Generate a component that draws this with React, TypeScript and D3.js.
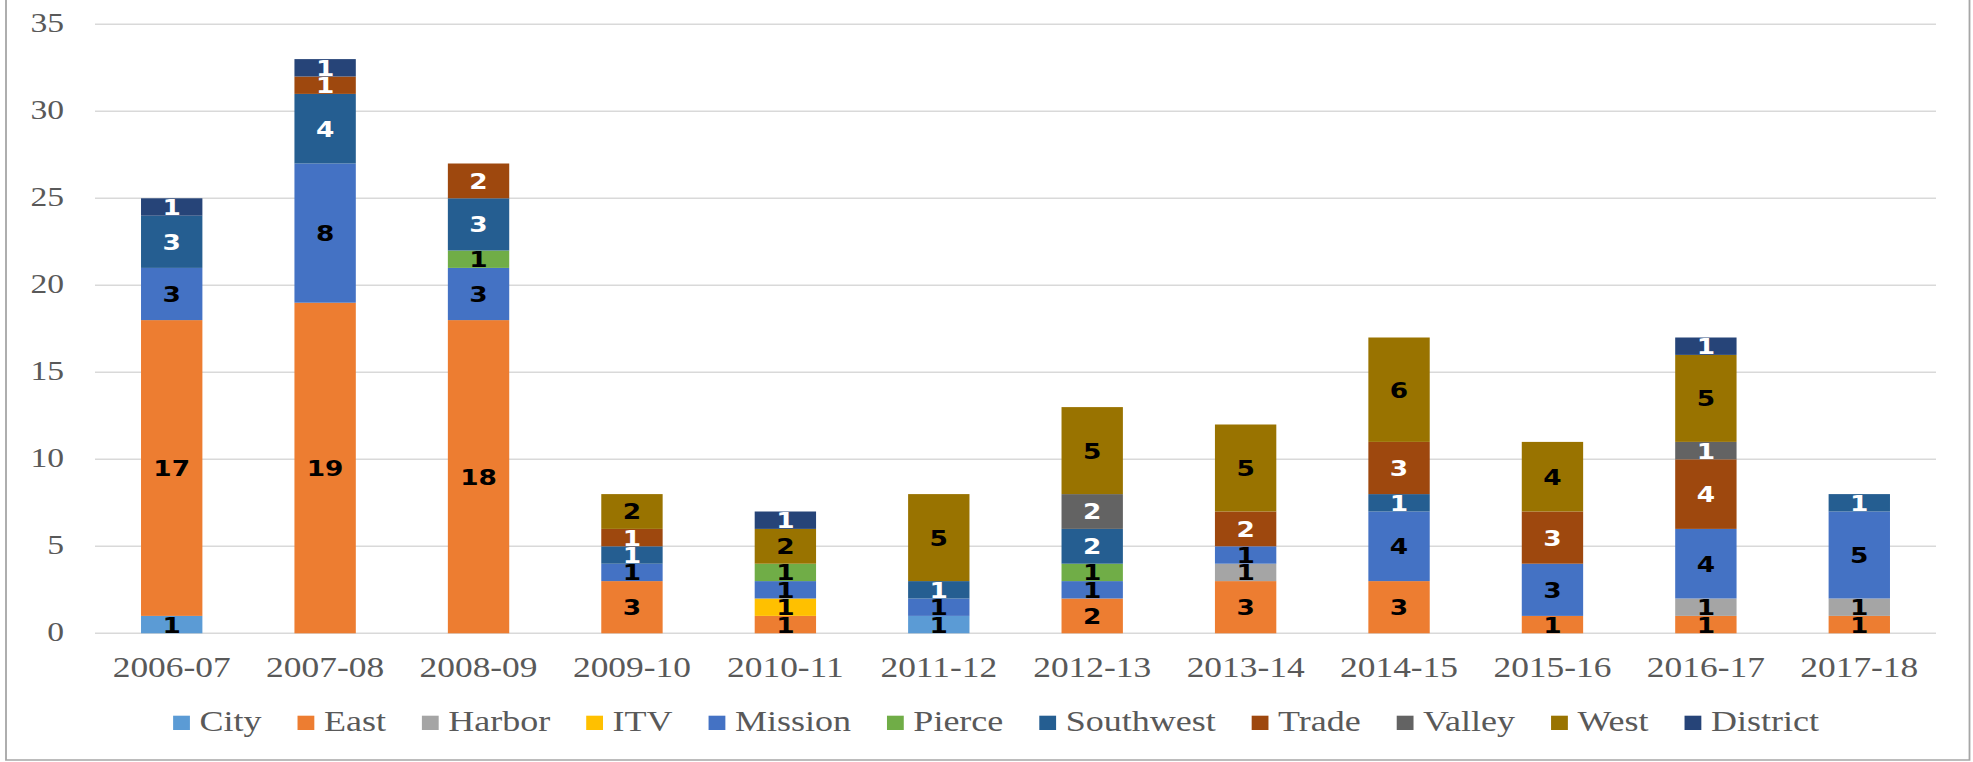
import React, { useEffect, useRef } from 'react';
import * as d3 from 'd3';

const years = ['2006-07', '2007-08', '2008-09', '2009-10', '2010-11', '2011-12',
  '2012-13', '2013-14', '2014-15', '2015-16', '2016-17', '2017-18'];

const seriesNames = ['City', 'East', 'Harbor', 'ITV', 'Mission', 'Pierce',
  'Southwest', 'Trade', 'Valley', 'West', 'District'];
const seriesColors = ['#5B9BD5', '#ED7D31', '#A5A5A5', '#FFC000', '#4472C4', '#70AD47',
  '#255E91', '#9E480E', '#636363', '#997300', '#264478'];
const labelColors = ['#000', '#000', '#000', '#000', '#000', '#000',
  '#fff', '#fff', '#fff', '#000', '#fff'];

const city = [1, 0, 0, 0, 0, 1, 0, 0, 0, 0, 0, 0];
const east = [17, 19, 18, 3, 1, 0, 2, 3, 3, 1, 1, 1];
const harbor = [0, 0, 0, 0, 0, 0, 0, 1, 0, 0, 1, 1];
const itv = [0, 0, 0, 0, 1, 0, 0, 0, 0, 0, 0, 0];
const mission = [3, 8, 3, 1, 1, 1, 1, 1, 4, 3, 4, 5];
const pierce = [0, 0, 1, 0, 1, 0, 1, 0, 0, 0, 0, 0];
const southwest = [3, 4, 3, 1, 0, 1, 2, 0, 1, 0, 0, 1];
const trade = [0, 1, 2, 1, 0, 0, 0, 2, 3, 3, 4, 0];
const valley = [0, 0, 0, 0, 0, 0, 2, 0, 0, 0, 1, 0];
const west = [0, 0, 0, 2, 2, 5, 5, 5, 6, 4, 5, 0];
const district = [1, 1, 0, 0, 1, 0, 0, 0, 0, 0, 1, 0];

const seriesValues = [city, east, harbor, itv, mission, pierce, southwest, trade, valley, west, district];
const yTicks = [0, 5, 10, 15, 20, 25, 30, 35];

export default function App() {
  const ref = useRef<SVGSVGElement | null>(null);

  useEffect(() => {
    if (!ref.current) return;
    // the original picture is stretched sideways, so draw narrow and stretch the svg
    const W = 1973, H = 762, SX = 1.2;
    const VW = W / SX;
    const left = 95 / SX, right = 1936 / SX;
    const top = 24.3, bottom = 633.3;
    const axisFont = '"Liberation Serif", "Times New Roman", serif';
    const textGray = '#595959';

    const svg = d3.select(ref.current)
      .attr('viewBox', `0 0 ${VW} ${H}`)
      .attr('preserveAspectRatio', 'none');
    svg.selectAll('*').remove();

    const rows = years.map((yr, i) => {
      const row: any = { year: yr };
      seriesNames.forEach((s, j) => { row[s] = seriesValues[j][i]; });
      return row;
    });

    const x = d3.scaleBand<string>()
      .domain(years)
      .range([left, right])
      .paddingInner(0.6)
      .paddingOuter(0.3);

    const y = d3.scaleLinear().domain([0, 35]).range([bottom, top]);

    // outer border
    svg.append('rect')
      .attr('x', 5).attr('y', -3)
      .attr('width', 1969.5 / SX - 5).attr('height', 760 + 3)
      .attr('fill', 'none')
      .attr('stroke', '#A6A6A6')
      .attr('stroke-width', 1.5);

    // gridlines
    svg.append('g')
      .selectAll('line')
      .data(yTicks)
      .join('line')
      .attr('x1', left).attr('x2', right)
      .attr('y1', d => y(d)).attr('y2', d => y(d))
      .attr('stroke', '#D9D9D9')
      .attr('stroke-width', 1.5);

    // y tick labels
    svg.append('g')
      .selectAll('text')
      .data(yTicks)
      .join('text')
      .attr('x', 64 / SX)
      .attr('y', d => y(d) + 8)
      .attr('text-anchor', 'end')
      .attr('font-family', axisFont)
      .attr('font-size', 28)
      .attr('fill', textGray)
      .text(d => d);

    // x labels
    svg.append('g')
      .selectAll('text')
      .data(years)
      .join('text')
      .attr('x', d => (x(d) as number) + x.bandwidth() / 2)
      .attr('y', 676.5)
      .attr('text-anchor', 'middle')
      .attr('font-family', axisFont)
      .attr('font-size', 29.5)
      .attr('fill', textGray)
      .text(d => d);

    const stacked = d3.stack<any>().keys(seriesNames)(rows);

    const layers = svg.append('g')
      .selectAll('g')
      .data(stacked)
      .join('g')
      .attr('fill', (_, i) => seriesColors[i]);

    layers.selectAll('rect')
      .data(d => d.filter(p => p[1] - p[0] > 0))
      .join('rect')
      .attr('x', p => x(p.data.year) as number)
      .attr('width', x.bandwidth())
      .attr('y', p => y(p[1]))
      .attr('height', p => y(p[0]) - y(p[1]));

    // data labels on top of all bars
    const labelG = svg.append('g');
    stacked.forEach((layer, i) => {
      labelG.append('g')
        .selectAll('text')
        .data(layer.filter(p => p[1] - p[0] > 0))
        .join('text')
        .attr('x', p => (x(p.data.year) as number) + x.bandwidth() / 2)
        .attr('y', p => (y(p[0]) + y(p[1])) / 2)
        .attr('dy', '0.36em')
        .attr('text-anchor', 'middle')
        .attr('font-family', '"DejaVu Sans", sans-serif')
        .attr('font-weight', 'bold')
        .attr('font-size', 22)
        .attr('fill', labelColors[i])
        .text(p => p[1] - p[0]);
    });

    // legend
    const legend = svg.append('g');
    const items = legend.selectAll('g')
      .data(seriesNames)
      .join('g');
    items.append('rect')
      .attr('width', 14).attr('height', 14.3)
      .attr('y', 715.7)
      .attr('fill', (_, i) => seriesColors[i]);
    items.append('text')
      .attr('x', 22)
      .attr('y', 731.5)
      .attr('font-family', axisFont)
      .attr('font-size', 30)
      .attr('fill', textGray)
      .text(d => d);

    const widths: number[] = [];
    items.select('text').each(function () {
      widths.push((this as SVGTextElement).getComputedTextLength());
    });
    const gap = 30;
    const itemW = widths.map(w => 22 + w);
    const total = d3.sum(itemW) + gap * (itemW.length - 1);
    let cx = 996 / SX - total / 2;
    items.attr('transform', (_, i) => {
      const t = `translate(${cx},0)`;
      cx += itemW[i] + gap;
      return t;
    });
  }, []);

  return (
    <svg
      ref={ref}
      width={1973}
      height={762}
      style={{ position: 'absolute', left: 0, top: 0, display: 'block', background: '#fff' }}
    />
  );
}
